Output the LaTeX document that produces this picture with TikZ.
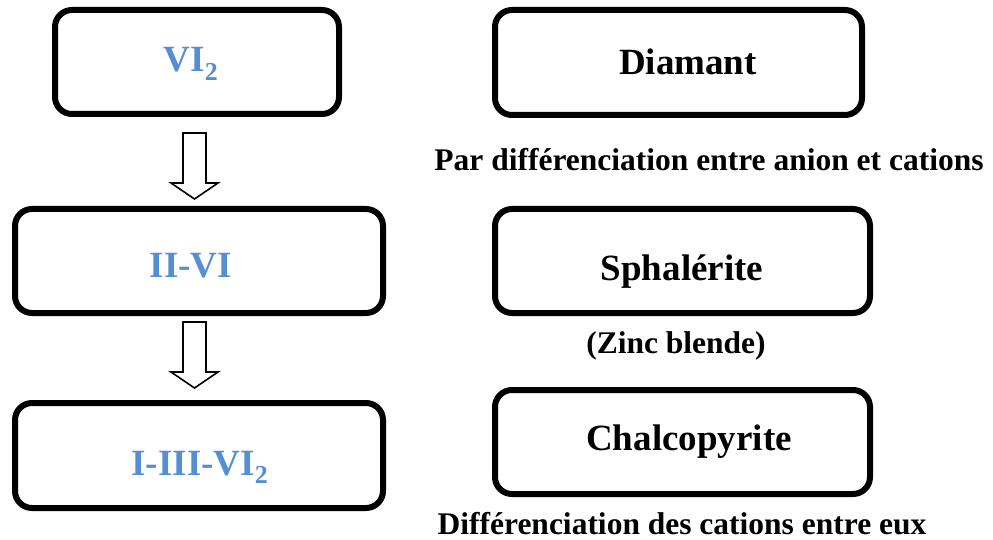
\documentclass[tikz,border=0pt]{standalone}
\usepackage{fontspec}
\setmainfont{Liberation Serif}
\usetikzlibrary{calc}
\definecolor{lblue}{RGB}{85,142,213}
\begin{document}
\begin{tikzpicture}[x=1pt,y=-1pt,
  box/.style={draw=black, line width=6pt, rounded corners=17pt, inner sep=0pt, fill=white},
  bluetxt/.style={anchor=base, text=lblue, inner sep=0pt, font=\fontsize{37}{42}\selectfont\bfseries},
  blktxt/.style={anchor=base, inner sep=0pt, font=\fontsize{37}{42}\selectfont\bfseries},
  captxt/.style={anchor=base, inner sep=0pt, font=\fontsize{31.5}{36}\selectfont\bfseries},
  blockarrow/.style={draw=black, line width=1.6pt, fill=white, line join=miter}]
\useasboundingbox[fill=white] (0,0) rectangle (993,540);
% left column boxes
\node[box, minimum width=284pt, minimum height=104pt] (b1) at (197,62) {};
\node[box, minimum width=368pt, minimum height=104pt] (b2) at (199,261) {};
\node[box, minimum width=368pt, minimum height=105pt] (b3) at (199,455.5) {};
% right column boxes
\node[box, minimum width=367pt, minimum height=105pt] (b4) at (678.5,62.5) {};
\node[box, minimum width=375pt, minimum height=104pt] (b5) at (682.5,261) {};
\node[box, minimum width=375pt, minimum height=104pt] (b6) at (682.5,442) {};
% box texts
\node[bluetxt] (t1) at (191,72) {VI\textsubscript{2}};
\node[bluetxt] (t2) at (191,277) {II-VI};
\node[bluetxt] (t3) at (200,475) {I-III-VI\textsubscript{2}};
\node[blktxt] (t4) at (688,75) {Diamant};
\node[blktxt] (t5) at (682,280) {Sphalérite};
\node[blktxt] (t6) at (689,450) {Chalcopyrite};
% captions
\node[captxt] (c1) at (709,171) {Par différenciation entre anion et cations};
\node[captxt] (c2) at (676,353) {(Zinc blende)};
\node[captxt] (c3) at (682,534) {Différenciation des cations entre eux};
% block arrows
\coordinate (a1top) at (194.5,133);
\coordinate (a1tip) at (194.5,199);
\coordinate (a2top) at (194.5,322);
\coordinate (a2tip) at (194.5,388);
\foreach \t/\p in {a1top/a1tip, a2top/a2tip}{
  \draw[blockarrow] ($(\t)+(-11.5,0)$) -- ($(\t)+(11.5,0)$) -- ($(\p)+(11.5,-16)$)
    -- ($(\p)+(23.5,-16)$) -- (\p) -- ($(\p)+(-23.5,-16)$) -- ($(\p)+(-11.5,-16)$) -- cycle;
}
\end{tikzpicture}
\end{document}
